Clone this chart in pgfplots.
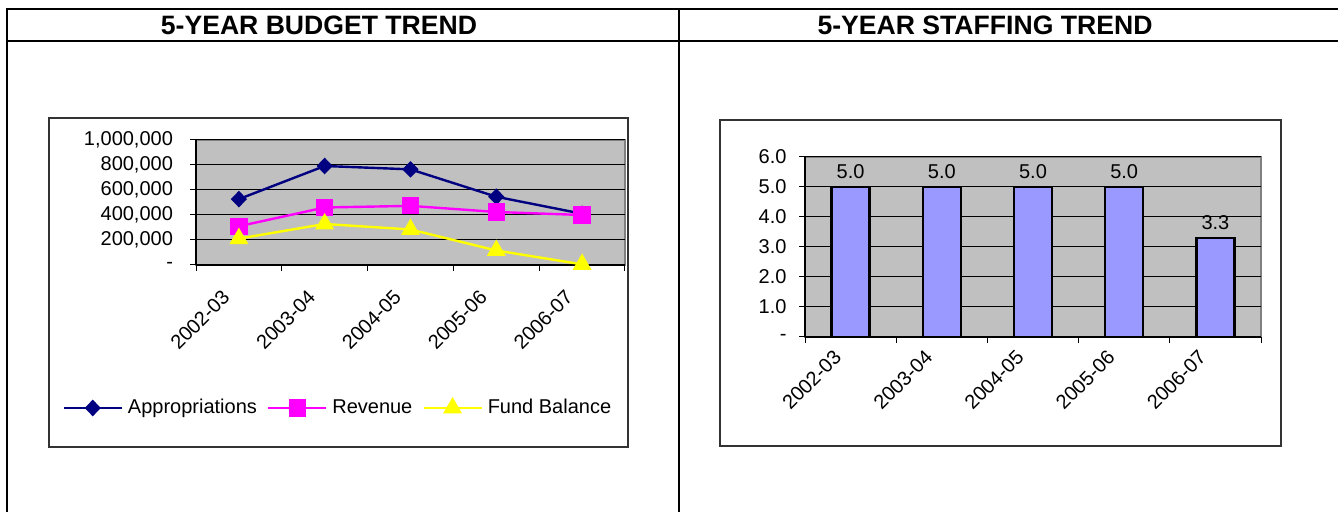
\documentclass[border=0pt]{standalone}
\usepackage{fontspec}
\setmainfont{Liberation Sans}
\usepackage{pgfplots}
\pgfplotsset{compat=1.18}
\definecolor{navyx}{HTML}{000080}
\definecolor{magx}{HTML}{FF00FF}
\definecolor{yelx}{HTML}{FFFF00}
\definecolor{barx}{HTML}{9999FF}
\definecolor{plotbg}{HTML}{C0C0C0}
\definecolor{plotbd}{HTML}{808080}
\pgfplotsset{excel/.style={
  scale only axis,
  axis lines*=left,
  axis background/.style={fill=plotbg, draw=plotbd, line width=0.75pt},
  tick align=outside, major tick length=3pt, minor tick length=3pt,
  tick style={black, line width=0.5pt},
  axis line style={black, line width=0.6pt},
  ymajorgrids, major grid style={black, line width=0.5pt},
  xmin=-0.5, xmax=4.5,
  xtick={0,...,4}, xticklabels={2002-03,2003-04,2004-05,2005-06,2006-07},
  minor xtick={-0.5,0.5,...,4.5},
  major x tick style={draw=none},
  scaled y ticks=false,
  tick label style={font=\fontsize{10}{12}\selectfont},
  /pgf/number format/assume math mode=true,
}}
\begin{document}
\begin{tikzpicture}
\useasboundingbox (0,0) rectangle (669pt,256pt);
\draw[line width=1pt] (3.5pt,251.5pt) -- (669pt,251.5pt);
\draw[line width=1pt] (3.5pt,235.5pt) -- (669pt,235.5pt);
\draw[line width=1pt] (3.5pt,252pt) -- (3.5pt,0pt);
\draw[line width=1pt] (339.5pt,252pt) -- (339.5pt,0pt);
\node[font=\fontsize{13.3}{16}\selectfont\bfseries] at (159.5pt,243.5pt) {5-YEAR BUDGET TREND};
\node[font=\fontsize{13.3}{16}\selectfont\bfseries] at (492.5pt,243.5pt) {5-YEAR STAFFING TREND};
\draw[black!80, line width=0.8pt] (24.5pt,32.5pt) rectangle (314pt,197pt);
\draw[black!80, line width=0.8pt] (360pt,33pt) rectangle (640.5pt,196pt);

\begin{axis}[excel, at={(98pt,123.5pt)}, anchor=south west,
  width=214.5pt, height=62.5pt,
  ymin=0, ymax=1000000,
  ytick={0,200000,400000,600000,800000,1000000},
  yticklabels={{-},{200,000},{400,000},{600,000},{800,000},{1,000,000}},
  yticklabel style={xshift=-5pt},
  xticklabel shift=9pt,
  xticklabel style={xshift=-4pt, rotate=45, anchor=east},
  clip=false,
  legend columns=3,
  legend image code/.code={\draw[mark repeat=2,mark phase=2] plot coordinates {(0pt,0pt) (14.5pt,0pt) (29pt,0pt)};},
  legend style={draw=none, fill=none, inner sep=0pt, at={(-0.312,-1.144)}, anchor=west,
    font=\fontsize{10}{12}\selectfont,
    nodes={inner sep=0pt},
    /tikz/every odd column/.append style={column sep=2.5pt},
    /tikz/every even column/.append style={column sep=5pt}},
]
\addplot[navyx, line width=1.2pt, mark=diamond*, mark size=3.3pt, mark options={solid, xscale=1.3}]
  coordinates {(0,527000) (1,792000) (2,765000) (3,546000) (4,410000)};
\addlegendentry{Appropriations}
\addplot[magx, line width=1.2pt, mark=square*, mark size=3.7pt, mark options={solid}]
  coordinates {(0,310000) (1,460000) (2,473000) (3,424000) (4,400000)};
\addlegendentry{Revenue}
\addplot[yelx, line width=1.2pt, mark=triangle*, mark size=4.3pt, mark options={solid}]
  coordinates {(0,211000) (1,328000) (2,284000) (3,116000) (4,5000)};
\addlegendentry{Fund Balance}
\end{axis}

\begin{axis}[excel, at={(402.5pt,87.5pt)}, anchor=south west,
  width=228pt, height=90pt,
  ymin=0, ymax=6,
  ytick={0,1,2,3,4,5,6},
  yticklabels={{-},{1.0},{2.0},{3.0},{4.0},{5.0},{6.0}},
  yticklabel style={xshift=-2.7pt},
  xticklabel shift=3pt,
  xticklabel style={xshift=-4pt, rotate=45, anchor=east},
  ybar, bar width=19pt,
  nodes near coords={\pgfmathprintnumber[fixed,fixed zerofill,precision=1]{\pgfplotspointmeta}},
  every node near coord/.append style={font=\fontsize{10}{12}\selectfont, black},
  clip=false,
]
\addplot[fill=barx, draw=black, line width=1.2pt]
  coordinates {(0,5) (1,5) (2,5) (3,5) (4,3.3)};
\end{axis}
\end{tikzpicture}
\end{document}
